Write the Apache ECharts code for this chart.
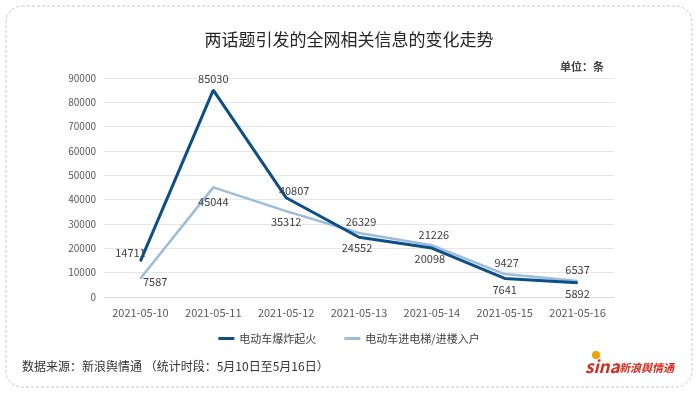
<!DOCTYPE html>
<html><head><meta charset="utf-8">
<script src="https://cdn.jsdelivr.net/npm/echarts@6/dist/echarts.min.js"></script>
<style>html,body{margin:0;padding:0;background:#fff}#c{width:698px;height:393px}</style>
</head><body><div id="c"></div>
<script>
const categories = ['2021-05-10','2021-05-11','2021-05-12','2021-05-13','2021-05-14','2021-05-15','2021-05-16'];
const seriesNames = ['电动车爆炸起火','电动车进电梯/进楼入户'];
const fireValues = [14711, 85030, 40807, 24552, 20098, 7641, 5892];
const elevatorValues = [7587, 45044, 35312, 26329, 21226, 9427, 6537];
const yTicks = [0,10000,20000,30000,40000,50000,60000,70000,80000,90000];

const fireLabelPos = [['top',[-10,3]],['top',[0,0]],['top',[8,4]],['bottom',[-2,0]],['bottom',[-2,0]],['bottom',[0,0]],['bottom',[0,0]]];
const elevLabelPos = [['right',[-3,3]],['bottom',[0,3]],['bottom',[0,0]],['top',[2,0]],['top',[2,0]],['top',[2,0]],['top',[0,0]]];

const font = '"Microsoft YaHei","Noto Sans CJK SC",sans-serif';
const lblStyle = {fontSize:11, color:'#404040', fontFamily:font};

function mk(vals, pos){
  return vals.map((v,i)=>({value:v, label:{position:pos[i][0], offset:pos[i][1]}}));
}

const chart = echarts.init(document.getElementById('c'));
chart.setOption({
  animation:false,
  title:{text:'两话题引发的全网相关信息的变化走势', left:'center', top:26,
    textStyle:{fontSize:17, fontWeight:'normal', color:'#262626', fontFamily:font}},
  grid:{left:104, right:84, top:78, bottom:96},
  legend:{bottom:44, left:'center', itemWidth:16, itemHeight:3, itemGap:28, icon:'rect',
    textStyle:{fontSize:11, color:'#404040', fontFamily:font}},
  xAxis:{type:'category', data:categories, boundaryGap:true,
    axisLine:{show:true, lineStyle:{color:'#d9d9d9'}}, axisTick:{show:false},
    axisLabel:{fontSize:11, color:'#595959', margin:10, interval:0, fontFamily:font}},
  yAxis:{type:'value', min:0, max:90000, interval:10000,
    axisLine:{show:false}, axisTick:{show:false},
    splitLine:{lineStyle:{color:'#e6e6e6'}},
    axisLabel:{fontSize:10, color:'#595959', margin:8, fontFamily:font, formatter:v=>String(v)}},
  series:[
    {name:seriesNames[0], type:'line', data:mk(fireValues, fireLabelPos), symbol:'circle', symbolSize:1, showSymbol:true,
      lineStyle:{width:3, color:'#0b4e88'}, itemStyle:{color:'#0b4e88'},
      label:Object.assign({show:true},lblStyle), z:3},
    {name:seriesNames[1], type:'line', data:mk(elevatorValues, elevLabelPos), symbol:'circle', symbolSize:1, showSymbol:true,
      lineStyle:{width:2.5, color:'#9cbcdd'}, itemStyle:{color:'#9cbcdd'},
      label:Object.assign({show:true},lblStyle), z:2}
  ],
  graphic:[
    {type:'rect', shape:{x:6, y:6, width:686, height:381, r:16}, silent:true,
      style:{fill:'none', stroke:'#c8c8c8', lineWidth:1, lineDash:[3,2]}},
    {type:'text', left:560, top:61, style:{text:'单位：条', fill:'#404040', font:'bold 11px '+font}},
    {type:'text', left:22, top:360, style:{text:'数据来源：新浪舆情通 （统计时段：5月10日至5月16日）', fill:'#333', font:'12px '+font}},
    {type:'text', left:585, top:358, style:{text:'sina', fill:'#d52b1e', font:'italic bold 17px '+font}},
    {type:'text', left:619, top:362, style:{text:'新浪舆情通', fill:'#d52b1e', font:'italic bold 11px '+font}},
    {type:'circle', shape:{cx:596, cy:355, r:4}, style:{fill:'#f0a000'}}
  ]
});
</script></body></html>
